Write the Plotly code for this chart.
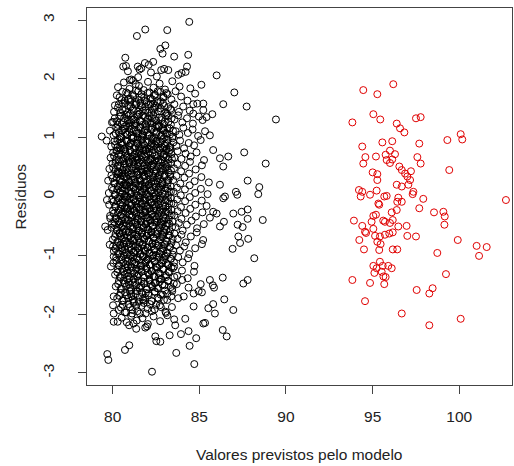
import plotly.graph_objects as go

# ---------------- data ----------------
x_tick_vals = [80, 85, 90, 95, 100]
x_tick_labels = ["80", "85", "90", "95", "100"]
y_tick_vals = [-3, -2, -1, 0, 1, 2, 3]
y_tick_labels = ["-3", "-2", "-1", "0", "1", "2", "3"]

x_title = "Valores previstos pelo modelo"
y_title = "Resíduos"

# black group: upper part of the cloud (fitted value, residual)
black_upper = [
    (80.88,2.13),(81.65,2.18),(82.21,2.11),(82.97,2.17),(81.47,2.03),(82.55,2.04),
    (80.31,1.86),(80.65,1.94),(80.97,1.83),(81.18,1.97),(81.52,1.88),(81.79,1.81),(82.04,1.95),
    (82.36,1.85),(82.71,1.92),(83.02,1.82),(83.44,1.96),(83.86,1.87),(84.48,1.84),(81.33,1.91),
    (80.24,1.72),(80.51,1.64),(80.78,1.77),(80.93,1.66),(81.15,1.74),(81.31,1.61),(81.48,1.79),
    (81.66,1.69),(81.87,1.63),(82.02,1.76),(82.18,1.67),(82.39,1.72),(82.57,1.62),(82.76,1.78),
    (82.94,1.68),(83.17,1.74),(83.39,1.65),(83.63,1.79),(83.95,1.70),(84.32,1.63),(84.76,1.75),(81.02,1.61),
    (80.08,1.44),(80.36,1.57),(80.55,1.48),(80.71,1.59),(80.86,1.42),(81.04,1.53),(81.21,1.46),
    (81.37,1.58),(81.55,1.41),(81.71,1.52),(81.90,1.47),(82.06,1.56),(82.24,1.43),(82.41,1.51),
    (82.60,1.59),(82.79,1.45),(82.98,1.54),(83.14,1.41),(83.33,1.49),(83.56,1.57),(83.82,1.44),
    (84.07,1.53),(84.45,1.46),(84.88,1.58),(81.63,1.55),(82.33,1.58),
    (80.12,1.33),(80.29,1.22),(80.47,1.37),(80.62,1.26),(80.79,1.39),(80.95,1.24),(81.11,1.31),
    (81.26,1.21),(81.42,1.36),(81.58,1.28),(81.74,1.38),(81.89,1.23),(82.03,1.32),(82.19,1.25),
    (82.35,1.39),(82.51,1.29),(82.68,1.21),(82.84,1.34),(83.01,1.27),(83.19,1.37),(83.36,1.22),
    (83.57,1.31),(83.78,1.38),(84.02,1.26),(84.29,1.33),(84.63,1.24),(84.97,1.36),(81.33,1.29),
    (82.27,1.33),(80.88,1.30),
    (79.84,1.12),(80.05,1.04),(80.21,1.18),(80.36,1.09),(80.51,1.01),(80.66,1.15),(80.81,1.06),
    (80.96,1.19),(81.09,1.03),(81.23,1.13),(81.38,1.07),(81.52,1.17),(81.66,1.02),(81.81,1.11),
    (81.95,1.19),(82.09,1.05),(82.23,1.14),(82.38,1.01),(82.52,1.09),(82.67,1.18),(82.82,1.04),
    (82.97,1.12),(83.12,1.07),(83.29,1.16),(83.46,1.02),(83.64,1.11),(83.85,1.05),(84.08,1.17),
    (84.34,1.08),(84.61,1.14),(84.93,1.03),(81.45,1.00),(82.45,1.19),(80.72,1.08),(81.74,1.06),(82.88,1.16),
]

# black group: centre of the cloud
black_center = [
    (79.92,0.85),(80.11,0.94),(80.26,0.83),(80.40,0.97),(80.55,0.88),(80.69,0.81),(80.83,0.93),
    (80.97,0.86),(81.10,0.99),(81.24,0.82),(81.37,0.91),(81.51,0.84),(81.64,0.96),(81.78,0.89),
    (81.91,0.80),(82.05,0.92),(82.18,0.85),(82.32,0.98),(82.46,0.87),(82.60,0.81),(82.74,0.94),
    (82.88,0.83),(83.03,0.90),(83.18,0.97),(83.33,0.84),(83.50,0.92),(83.68,0.86),(83.89,0.95),
    (84.12,0.82),(84.39,0.91),(84.70,0.87),(85.08,0.96),(81.02,0.90),(81.70,0.82),(82.25,0.90),
    (82.95,0.99),(80.48,0.91),(81.44,0.97),(82.53,0.94),(83.11,0.81),
    (79.88,0.66),(80.03,0.75),(80.18,0.62),(80.33,0.71),(80.47,0.79),(80.61,0.64),(80.75,0.73),
    (80.89,0.61),(81.02,0.77),(81.15,0.68),(81.29,0.74),(81.42,0.63),(81.56,0.78),(81.69,0.67),
    (81.83,0.72),(81.96,0.61),(82.10,0.76),(82.23,0.65),(82.37,0.79),(82.51,0.69),(82.65,0.62),
    (82.79,0.74),(82.93,0.67),(83.08,0.78),(83.23,0.63),(83.39,0.72),(83.56,0.66),(83.75,0.77),
    (83.97,0.64),(84.21,0.73),(84.50,0.68),(84.84,0.75),(85.27,0.62),(80.82,0.68),(81.36,0.66),
    (81.90,0.79),(82.44,0.61),(82.98,0.71),(80.25,0.78),(81.62,0.70),(82.16,0.63),(83.31,0.79),
    (79.81,0.47),(79.99,0.56),(80.14,0.43),(80.29,0.52),(80.43,0.59),(80.57,0.45),(80.71,0.54),
    (80.85,0.41),(80.98,0.57),(81.12,0.48),(81.25,0.55),(81.39,0.42),(81.53,0.58),(81.66,0.46),
    (81.80,0.53),(81.94,0.44),(82.07,0.59),(82.21,0.49),(82.35,0.56),(82.49,0.43),(82.63,0.51),
    (82.77,0.58),(82.91,0.45),(83.06,0.54),(83.21,0.41),(83.37,0.57),(83.54,0.48),(83.73,0.55),
    (83.95,0.43),(84.18,0.52),(84.46,0.59),(84.79,0.46),(85.15,0.53),(80.64,0.49),(81.18,0.59),
    (81.73,0.41),(82.28,0.53),(82.84,0.48),(80.36,0.41),(81.47,0.51),(82.01,0.47),(83.13,0.50),
    (79.74,0.27),(79.93,0.36),(80.09,0.23),(80.24,0.32),(80.38,0.39),(80.52,0.25),(80.66,0.34),
    (80.80,0.21),(80.93,0.37),(81.07,0.28),(81.20,0.35),(81.34,0.22),(81.48,0.38),(81.61,0.26),
    (81.75,0.33),(81.89,0.24),(82.02,0.39),(82.16,0.29),(82.30,0.36),(82.44,0.23),(82.58,0.31),
    (82.72,0.38),(82.86,0.25),(83.01,0.34),(83.16,0.21),(83.32,0.37),(83.49,0.28),(83.68,0.35),
    (83.90,0.22),(84.14,0.32),(84.41,0.39),(84.73,0.26),(85.12,0.33),(85.55,0.24),(80.45,0.30),
    (80.99,0.24),(81.54,0.31),(82.09,0.21),(82.64,0.35),(83.22,0.28),(80.71,0.39),(81.27,0.29),
    (81.82,0.37),(82.37,0.26),
    (79.78,0.06),(79.96,0.15),(80.12,0.03),(80.27,0.12),(80.41,0.19),(80.55,0.05),(80.69,0.14),
    (80.83,0.01),(80.96,0.17),(81.10,0.08),(81.23,0.15),(81.37,0.02),(81.51,0.18),(81.64,0.06),
    (81.78,0.13),(81.92,0.04),(82.05,0.19),(82.19,0.09),(82.33,0.16),(82.47,0.03),(82.61,0.11),
    (82.75,0.18),(82.89,0.05),(83.04,0.14),(83.19,0.01),(83.35,0.17),(83.52,0.08),(83.71,0.15),
    (83.93,0.02),(84.17,0.12),(84.44,0.19),(84.76,0.06),(85.09,0.13),(85.48,0.04),(80.48,0.10),
    (81.02,0.04),(81.57,0.11),(82.12,0.01),(82.67,0.15),(83.25,0.08),(80.74,0.19),(81.30,0.09),
    (81.85,0.17),(82.40,0.06),
    (79.80,-0.14),(79.98,-0.05),(80.13,-0.17),(80.28,-0.08),(80.42,-0.01),(80.56,-0.15),(80.70,-0.06),
    (80.84,-0.19),(80.97,-0.03),(81.11,-0.12),(81.24,-0.05),(81.38,-0.18),(81.52,-0.02),(81.65,-0.14),
    (81.79,-0.07),(81.93,-0.16),(82.06,-0.01),(82.20,-0.11),(82.34,-0.04),(82.48,-0.17),(82.62,-0.09),
    (82.76,-0.02),(82.90,-0.15),(83.05,-0.06),(83.20,-0.19),(83.36,-0.03),(83.53,-0.12),(83.72,-0.05),
    (83.94,-0.18),(84.18,-0.08),(84.45,-0.01),(84.77,-0.14),(85.14,-0.07),(85.42,-0.16),(80.49,-0.10),
    (81.03,-0.16),(81.58,-0.09),(82.13,-0.19),(82.68,-0.05),(83.26,-0.12),(80.75,-0.01),(81.31,-0.11),
    (81.86,-0.03),(82.41,-0.14),
    (79.85,-0.33),(80.02,-0.24),(80.17,-0.37),(80.31,-0.28),(80.45,-0.21),(80.59,-0.35),(80.73,-0.26),
    (80.87,-0.39),(81.00,-0.23),(81.14,-0.32),(81.27,-0.25),(81.41,-0.38),(81.55,-0.22),(81.68,-0.34),
    (81.82,-0.27),(81.96,-0.36),(82.09,-0.21),(82.23,-0.31),(82.37,-0.24),(82.51,-0.37),(82.65,-0.29),
    (82.79,-0.22),(82.93,-0.35),(83.08,-0.26),(83.23,-0.39),(83.39,-0.23),(83.56,-0.32),(83.75,-0.25),
    (83.97,-0.38),(84.21,-0.28),(84.48,-0.21),(84.80,-0.34),(85.18,-0.27),(85.61,-0.36),(80.52,-0.30),
    (81.06,-0.36),(81.61,-0.29),(82.16,-0.39),(82.71,-0.25),(83.29,-0.32),(80.78,-0.21),(81.34,-0.31),
    (81.89,-0.23),(82.44,-0.34),
    (79.94,-0.53),(80.10,-0.44),(80.24,-0.57),(80.38,-0.48),(80.52,-0.41),(80.66,-0.55),(80.80,-0.46),
    (80.94,-0.59),(81.07,-0.43),(81.21,-0.52),(81.34,-0.45),(81.48,-0.58),(81.62,-0.42),(81.75,-0.54),
    (81.89,-0.47),(82.03,-0.56),(82.16,-0.41),(82.30,-0.51),(82.44,-0.44),(82.58,-0.57),(82.72,-0.49),
    (82.86,-0.42),(83.00,-0.55),(83.15,-0.46),(83.30,-0.59),(83.46,-0.43),(83.63,-0.52),(83.82,-0.45),
    (84.04,-0.58),(84.28,-0.48),(84.55,-0.41),(84.87,-0.54),(85.26,-0.47),(80.59,-0.50),(81.13,-0.56),
    (81.68,-0.49),(82.23,-0.59),(82.78,-0.45),(80.31,-0.42),(81.41,-0.51),(81.96,-0.43),(83.07,-0.50),
    (80.01,-0.73),(80.17,-0.64),(80.31,-0.77),(80.45,-0.68),(80.59,-0.61),(80.73,-0.75),(80.87,-0.66),
    (81.01,-0.79),(81.14,-0.63),(81.28,-0.72),(81.41,-0.65),(81.55,-0.78),(81.69,-0.62),(81.82,-0.74),
    (81.96,-0.67),(82.10,-0.76),(82.23,-0.61),(82.37,-0.71),(82.51,-0.64),(82.65,-0.77),(82.79,-0.69),
    (82.93,-0.62),(83.08,-0.75),(83.23,-0.66),(83.39,-0.79),(83.56,-0.63),(83.75,-0.72),(83.97,-0.65),
    (84.22,-0.78),(84.51,-0.68),(84.85,-0.61),(85.22,-0.74),(80.66,-0.70),(81.20,-0.76),(81.75,-0.69),
    (82.30,-0.79),(82.86,-0.65),(80.38,-0.62),(81.48,-0.71),(82.03,-0.63),
]

# black group: lower part of the cloud
black_lower = [
    (80.07,-0.93),(80.22,-0.84),(80.36,-0.97),(80.50,-0.88),(80.64,-0.81),(80.78,-0.95),(80.92,-0.86),
    (81.05,-0.99),(81.19,-0.83),(81.32,-0.92),(81.46,-0.85),(81.60,-0.98),(81.73,-0.82),(81.87,-0.94),
    (82.01,-0.87),(82.14,-0.96),(82.28,-0.81),(82.42,-0.91),(82.56,-0.84),(82.70,-0.97),(82.84,-0.89),
    (82.99,-0.82),(83.14,-0.95),(83.30,-0.86),(83.47,-0.99),(83.66,-0.83),(83.88,-0.92),(84.13,-0.85),
    (84.42,-0.98),(84.76,-0.88),(85.15,-0.81),(80.71,-0.90),(81.25,-0.96),(81.80,-0.89),(82.35,-0.99),
    (82.91,-0.93),(80.43,-0.82),(81.53,-0.91),
    (80.04,-1.13),(80.20,-1.04),(80.35,-1.17),(80.49,-1.08),(80.63,-1.01),(80.77,-1.15),(80.91,-1.06),
    (81.05,-1.19),(81.18,-1.03),(81.32,-1.12),(81.46,-1.05),(81.59,-1.18),(81.73,-1.02),(81.87,-1.14),
    (82.00,-1.07),(82.14,-1.16),(82.28,-1.01),(82.42,-1.11),(82.56,-1.04),(82.71,-1.17),(82.86,-1.09),
    (83.01,-1.02),(83.17,-1.15),(83.35,-1.06),(83.55,-1.19),(83.78,-1.03),(84.04,-1.12),(84.35,-1.05),
    (84.72,-1.18),(80.84,-1.10),(81.39,-1.16),(81.94,-1.09),(82.49,-1.19),(83.08,-1.13),
    (80.14,-1.33),(80.30,-1.24),(80.46,-1.37),(80.61,-1.28),(80.76,-1.21),(80.91,-1.35),(81.06,-1.26),
    (81.21,-1.39),(81.36,-1.23),(81.51,-1.32),(81.66,-1.25),(81.81,-1.38),(81.96,-1.22),(82.11,-1.34),
    (82.26,-1.27),(82.41,-1.36),(82.57,-1.21),(82.73,-1.31),(82.90,-1.24),(83.08,-1.37),(83.27,-1.29),
    (83.48,-1.22),(83.72,-1.35),(84.00,-1.26),(84.33,-1.39),(84.69,-1.28),(80.84,-1.30),(81.43,-1.36),
    (82.03,-1.29),(82.65,-1.39),
    (80.18,-1.53),(80.36,-1.44),(80.53,-1.57),(80.69,-1.48),(80.85,-1.41),(81.01,-1.55),(81.17,-1.46),
    (81.33,-1.59),(81.49,-1.43),(81.65,-1.52),(81.81,-1.45),(81.97,-1.58),(82.13,-1.42),(82.29,-1.54),
    (82.46,-1.47),(82.63,-1.56),(82.81,-1.41),(83.00,-1.51),(83.21,-1.44),(83.44,-1.57),(83.70,-1.49),
    (84.01,-1.42),(84.38,-1.55),(80.95,-1.50),(81.57,-1.56),(82.20,-1.49),
    (80.26,-1.73),(80.46,-1.64),(80.64,-1.77),(80.82,-1.68),(80.99,-1.61),(81.16,-1.75),(81.33,-1.66),
    (81.51,-1.79),(81.69,-1.63),(81.87,-1.72),(82.06,-1.65),(82.25,-1.78),(82.45,-1.62),(82.66,-1.74),
    (82.89,-1.67),(83.15,-1.76),(83.44,-1.61),(83.78,-1.73),(81.08,-1.70),(81.78,-1.77),
    (80.35,-1.93),(80.58,-1.84),(80.79,-1.97),(81.00,-1.88),(81.21,-1.81),(81.43,-1.95),(81.66,-1.86),
    (81.90,-1.99),(82.15,-1.83),(82.42,-1.92),(82.72,-1.85),(83.05,-1.96),(83.42,-1.88),(81.12,-1.99),
    (80.52,-2.06),(80.81,-2.14),(81.07,-2.03),(81.39,-2.11),(81.72,-2.07),(82.03,-2.17),(82.36,-2.04),
    (82.74,-2.12),(83.15,-2.02),(80.95,-2.19),
]

# black group: extra points filling the solid core (x list, y list per band)
black_core_fill = [
    ([80.40,80.56,80.71,80.87,81.03,81.19,81.34,81.50,81.66,81.81,81.97,82.13,82.29,82.45,82.60,82.76,82.92,83.10],
     [1.69,1.78,1.63,1.75,1.66,1.71,1.80,1.64,1.74,1.68,1.61,1.77,1.65,1.73,1.79,1.62,1.70,1.76]),
    ([80.30,80.44,80.59,80.73,80.88,81.02,81.17,81.31,81.46,81.60,81.75,81.89,82.04,82.18,82.33,82.47,82.62,82.76,82.91,83.05,83.20,83.38],
     [1.51,1.43,1.58,1.47,1.55,1.41,1.49,1.56,1.44,1.59,1.46,1.53,1.42,1.57,1.48,1.54,1.45,1.50,1.58,1.43,1.52,1.47]),
    ([80.25,80.39,80.52,80.66,80.79,80.93,81.06,81.20,81.33,81.47,81.60,81.74,81.87,82.01,82.14,82.28,82.41,82.55,82.68,82.82,82.95,83.09,83.22,83.40],
     [1.28,1.36,1.23,1.33,1.21,1.38,1.26,1.31,1.24,1.39,1.29,1.22,1.35,1.27,1.37,1.25,1.32,1.21,1.34,1.30,1.23,1.38,1.27,1.33]),
    ([80.18,80.31,80.44,80.57,80.70,80.83,80.96,81.09,81.22,81.35,81.48,81.61,81.74,81.87,82.00,82.13,82.26,82.39,82.52,82.65,82.78,82.91,83.04,83.17,83.30,83.48],
     [1.07,1.15,1.02,1.12,1.19,1.05,1.10,1.16,1.01,1.13,1.08,1.18,1.04,1.14,1.09,1.03,1.17,1.11,1.06,1.19,1.02,1.13,1.08,1.16,1.05,1.12]),
    ([80.14,80.28,80.41,80.54,80.67,80.80,80.93,81.06,81.19,81.32,81.45,81.58,81.71,81.84,81.97,82.10,82.23,82.36,82.49,82.62,82.75,82.88,83.01,83.14,83.28,83.45],
     [0.88,0.96,0.83,0.92,0.80,0.95,0.86,0.91,0.99,0.84,0.90,0.82,0.97,0.87,0.93,0.81,0.98,0.85,0.94,0.89,0.82,0.96,0.86,0.91,0.84,0.99]),
    ([80.08,80.22,80.35,80.48,80.61,80.74,80.87,81.00,81.13,81.26,81.39,81.52,81.65,81.78,81.91,82.04,82.17,82.30,82.43,82.56,82.69,82.82,82.95,83.09,83.24,83.42],
     [0.69,0.77,0.63,0.72,0.60,0.76,0.66,0.79,0.64,0.71,0.68,0.75,0.62,0.78,0.67,0.73,0.61,0.74,0.70,0.65,0.79,0.63,0.72,0.68,0.76,0.64]),
    ([80.03,80.17,80.30,80.43,80.56,80.69,80.82,80.95,81.08,81.21,81.34,81.47,81.60,81.73,81.86,81.99,82.12,82.25,82.38,82.51,82.64,82.77,82.90,83.04,83.19,83.37],
     [0.49,0.57,0.43,0.52,0.40,0.56,0.46,0.59,0.44,0.51,0.48,0.55,0.42,0.58,0.47,0.53,0.41,0.54,0.50,0.45,0.59,0.43,0.52,0.48,0.56,0.44]),
    ([80.00,80.13,80.27,80.40,80.53,80.66,80.79,80.92,81.05,81.18,81.31,81.44,81.57,81.70,81.83,81.96,82.09,82.22,82.35,82.48,82.61,82.74,82.87,83.00,83.15,83.33],
     [0.31,0.22,0.38,0.27,0.35,0.21,0.33,0.25,0.39,0.29,0.24,0.36,0.28,0.20,0.34,0.26,0.37,0.23,0.32,0.39,0.25,0.30,0.22,0.36,0.28,0.34]),
    ([80.02,80.16,80.29,80.42,80.55,80.68,80.81,80.94,81.07,81.20,81.33,81.46,81.59,81.72,81.85,81.98,82.11,82.24,82.37,82.50,82.63,82.76,82.89,83.03,83.18,83.36],
     [0.11,0.03,0.17,0.07,0.14,0.01,0.19,0.09,0.05,0.16,0.12,0.02,0.18,0.08,0.13,0.04,0.15,0.10,0.00,0.17,0.06,0.12,0.19,0.03,0.14,0.08]),
    ([80.04,80.18,80.31,80.44,80.57,80.70,80.83,80.96,81.09,81.22,81.35,81.48,81.61,81.74,81.87,82.00,82.13,82.26,82.39,82.52,82.65,82.78,82.91,83.05,83.20,83.38],
     [-0.09,-0.17,-0.03,-0.13,-0.06,-0.19,-0.01,-0.11,-0.15,-0.04,-0.08,-0.18,-0.02,-0.12,-0.07,-0.16,-0.05,-0.10,-0.20,-0.03,-0.14,-0.08,-0.01,-0.17,-0.06,-0.12]),
    ([80.06,80.20,80.33,80.46,80.59,80.72,80.85,80.98,81.11,81.24,81.37,81.50,81.63,81.76,81.89,82.02,82.15,82.28,82.41,82.54,82.67,82.80,82.93,83.07,83.22,83.40],
     [-0.29,-0.37,-0.23,-0.33,-0.26,-0.39,-0.21,-0.31,-0.35,-0.24,-0.28,-0.38,-0.22,-0.32,-0.27,-0.36,-0.25,-0.30,-0.40,-0.23,-0.34,-0.28,-0.21,-0.37,-0.26,-0.32]),
    ([80.10,80.24,80.37,80.50,80.63,80.76,80.89,81.02,81.15,81.28,81.41,81.54,81.67,81.80,81.93,82.06,82.19,82.32,82.45,82.58,82.71,82.84,82.97,83.11,83.26,83.43],
     [-0.49,-0.57,-0.43,-0.53,-0.46,-0.59,-0.41,-0.51,-0.55,-0.44,-0.48,-0.58,-0.42,-0.52,-0.47,-0.56,-0.45,-0.50,-0.60,-0.43,-0.54,-0.48,-0.41,-0.57,-0.46,-0.52]),
    ([80.13,80.27,80.40,80.53,80.66,80.79,80.92,81.05,81.18,81.31,81.44,81.57,81.70,81.83,81.96,82.09,82.22,82.35,82.48,82.61,82.74,82.87,83.00,83.14,83.29,83.46],
     [-0.69,-0.77,-0.63,-0.73,-0.66,-0.79,-0.61,-0.71,-0.75,-0.64,-0.68,-0.78,-0.62,-0.72,-0.67,-0.76,-0.65,-0.70,-0.80,-0.63,-0.74,-0.68,-0.61,-0.77,-0.66,-0.72]),
    ([80.16,80.30,80.43,80.56,80.69,80.82,80.95,81.08,81.21,81.34,81.47,81.60,81.73,81.86,81.99,82.12,82.25,82.38,82.51,82.64,82.77,82.90,83.03,83.17,83.32,83.49],
     [-0.89,-0.97,-0.83,-0.93,-0.86,-0.99,-0.81,-0.91,-0.95,-0.84,-0.88,-0.98,-0.82,-0.92,-0.87,-0.96,-0.85,-0.90,-1.00,-0.83,-0.94,-0.88,-0.81,-0.97,-0.86,-0.92]),
    ([80.21,80.35,80.48,80.61,80.74,80.87,81.00,81.13,81.26,81.39,81.52,81.65,81.78,81.91,82.04,82.17,82.30,82.43,82.56,82.69,82.82,82.95,83.08,83.22,83.37,83.54],
     [-1.09,-1.17,-1.03,-1.13,-1.06,-1.19,-1.01,-1.11,-1.15,-1.04,-1.08,-1.18,-1.02,-1.12,-1.07,-1.16,-1.05,-1.10,-1.20,-1.03,-1.14,-1.08,-1.01,-1.17,-1.06,-1.12]),
    ([80.27,80.41,80.55,80.69,80.83,80.97,81.11,81.25,81.39,81.53,81.67,81.81,81.95,82.09,82.23,82.37,82.51,82.65,82.79,82.93,83.07,83.22,83.38,83.56],
     [-1.29,-1.37,-1.23,-1.33,-1.26,-1.39,-1.21,-1.31,-1.35,-1.24,-1.28,-1.38,-1.22,-1.32,-1.27,-1.36,-1.25,-1.30,-1.40,-1.23,-1.34,-1.28,-1.21,-1.37]),
    ([80.32,80.47,80.62,80.77,80.92,81.07,81.22,81.37,81.52,81.67,81.82,81.97,82.12,82.27,82.42,82.57,82.72,82.87,83.02,83.18,83.35,83.53],
     [-1.49,-1.57,-1.43,-1.53,-1.46,-1.59,-1.41,-1.51,-1.55,-1.44,-1.48,-1.58,-1.42,-1.52,-1.47,-1.56,-1.45,-1.50,-1.60,-1.43,-1.54,-1.48]),
    ([80.38,80.55,80.72,80.89,81.06,81.23,81.40,81.57,81.74,81.91,82.08,82.25,82.42,82.59,82.77,82.96,83.16,83.38],
     [-1.69,-1.77,-1.63,-1.73,-1.66,-1.79,-1.61,-1.71,-1.75,-1.64,-1.68,-1.78,-1.62,-1.72,-1.67,-1.76,-1.65,-1.70]),
    ([80.48,80.70,80.92,81.14,81.36,81.58,81.80,82.02,82.26,82.51,82.78,83.08],
     [-1.89,-1.97,-1.83,-1.93,-1.86,-1.99,-1.81,-1.91,-1.95,-1.84,-1.88,-1.98]),
]

# black group: scattered points around the cloud
black_outliers = [
    (84.42,2.97),(81.88,2.84),(81.40,2.73),(83.15,2.83),(82.75,2.51),(83.04,2.57),(82.88,2.43),
    (83.55,2.38),(84.36,2.41),(80.73,2.36),(80.61,2.21),(80.77,2.22),(81.45,2.21),(81.55,2.16),
    (81.86,2.27),(82.08,2.24),(82.34,2.29),(82.80,2.15),(83.21,2.15),(83.79,2.07),(83.98,2.10),
    (84.29,2.21),(84.21,2.12),(80.98,1.98),(81.08,1.99),(85.12,1.90),(80.13,1.55),(79.96,1.26),
    (80.03,1.27),(86.00,2.06),(87.02,1.77),(86.38,1.57),(87.73,1.53),(89.42,1.31),(85.23,1.58),
    (85.23,1.47),(85.75,1.40),(85.42,1.35),(85.19,1.30),(84.65,1.57),(84.65,1.41),(85.33,1.11),
    (85.61,1.04),
    (87.59,0.75),(88.83,0.56),(86.19,0.65),(86.67,0.68),(86.38,0.51),(85.80,0.79),(87.79,0.27),
    (88.46,0.16),(88.40,0.04),(87.11,0.08),(87.19,0.03),(86.19,0.20),(86.38,-0.03),(86.48,0.00),
    (85.80,-0.26),(86.00,-0.29),(86.96,-0.29),(87.44,-0.26),(87.79,-0.22),(88.66,-0.40),(87.79,-0.38),
    (86.42,-0.43),(86.19,-0.51),(87.21,-0.48),(87.50,-0.52),(87.25,-0.68),(87.82,-0.72),(87.35,-0.79),
    (86.92,-0.89),(88.17,-1.05),
    (87.54,-1.48),(87.79,-1.42),(86.35,-1.38),(85.85,-1.55),(85.78,-1.51),(85.61,-1.42),(86.44,-1.75),
    (86.96,-1.93),(85.52,-1.90),(85.90,-1.99),(85.80,-1.83),(85.23,-2.16),(85.33,-2.15),(86.35,-2.27),
    (86.58,-2.38),(85.08,-1.49),
    (79.69,-2.68),(79.75,-2.78),(80.71,-2.61),(80.96,-2.53),(82.27,-2.98),(83.67,-2.66),(84.71,-2.85),
    (82.52,-2.46),(82.75,-2.47),(82.46,-2.38),(81.88,-2.23),(81.98,-2.21),(81.36,-2.25),(81.21,-2.16),
    (83.29,-2.36),(83.94,-2.34),(84.38,-2.29),(84.82,-2.41),(84.44,-2.54),(83.61,-2.19),(83.55,-2.09),
    (84.19,-2.08),(80.06,-1.70),(80.02,-1.85),(80.06,-1.99),(80.06,-2.13),(80.29,-2.13),(79.90,-1.19),
    (84.67,-1.65),(84.96,-1.61),(85.15,-1.63),(84.10,-1.70),(84.67,-1.87),
    (79.37,1.02),(79.65,0.95),(79.67,-0.06),(79.86,-0.37),(79.96,-0.46),(79.57,-0.51),(79.71,-0.57),
    (79.83,-0.82),(80.02,-0.85),(80.06,-1.02),
]

# red group
red_points = [
    (94.46,1.81),(95.27,1.74),(96.19,1.91),(93.83,1.26),(95.04,1.40),(95.44,1.31),(96.39,1.24),
    (96.58,1.16),(96.83,1.09),(97.50,1.33),(97.77,1.35),(99.31,0.96),(100.08,1.06),(100.17,0.97),
    (94.40,0.85),(95.56,0.92),(96.13,0.94),(97.69,0.90),(94.58,0.67),(94.46,0.56),(95.19,0.68),
    (95.75,0.71),(96.00,0.78),(96.29,0.72),(95.81,0.62),(96.00,0.57),(96.13,0.63),(97.58,0.67),
    (97.77,0.56),(96.54,0.51),(96.68,0.45),(96.87,0.39),(97.21,0.43),(97.00,0.34),(97.16,0.28),
    (95.00,0.41),(95.27,0.38),(95.27,0.28),(99.42,0.45),(96.39,0.20),(96.68,0.17),(97.06,0.20),
    (94.21,0.11),(94.40,0.08),(94.31,0.00),(94.85,0.03),(95.23,0.10),(95.67,0.00),(95.81,0.01),
    (96.48,-0.02),(97.35,0.08),(97.31,0.04),(97.92,-0.04),(102.69,-0.06),(95.38,-0.14),(95.33,-0.12),
    (96.42,-0.09),(96.68,-0.09),(96.39,-0.23),(96.10,-0.27),(97.69,-0.20),(98.54,-0.27),(99.08,-0.26),
    (99.16,-0.34),(99.14,-0.48),(93.92,-0.41),(95.04,-0.33),(95.19,-0.31),(94.94,-0.43),(95.61,-0.41),
    (95.71,-0.43),(96.00,-0.45),(96.16,-0.40),(94.40,-0.50),(94.56,-0.60),(94.62,-0.62),(95.04,-0.55),
    (95.14,-0.67),(95.42,-0.68),(95.71,-0.65),(95.96,-0.63),(96.16,-0.61),(96.48,-0.51),(96.96,-0.50),
    (97.00,-0.67),(97.50,-0.68),(94.23,-0.74),(95.27,-0.77),(95.46,-0.81),(94.50,-0.90),(95.38,-0.91),
    (96.16,-0.90),(96.42,-0.90),(99.91,-0.74),(101.00,-0.84),(101.58,-0.86),(101.14,-1.01),(98.73,-0.96),
    (95.04,-1.18),(95.23,-1.22),(95.42,-1.11),(95.58,-1.18),(95.90,-1.18),(96.10,-1.22),(95.10,-1.30),
    (95.52,-1.28),(95.62,-1.36),(95.75,-1.37),(95.67,-1.49),(93.83,-1.42),(94.85,-1.47),(99.23,-1.32),
    (97.54,-1.59),(98.46,-1.56),(98.27,-1.65),(94.56,-1.78),(96.68,-1.99),(100.08,-2.08),(98.27,-2.19),
]

# ---------------- figure ----------------
black_all = black_upper + black_center + black_lower + black_outliers
black_x = [p[0] for p in black_all]
black_y = [p[1] for p in black_all]
for band_x, band_y in black_core_fill:
    black_x += band_x
    black_y += band_y
red_x = [p[0] for p in red_points]
red_y = [p[1] for p in red_points]

FONT = "Liberation Sans, Arial, Helvetica, sans-serif"
FS = 15.5
TXT = "#222222"
AX = "#444444"

fig = go.Figure()
fig.add_trace(go.Scatter(
    x=black_x, y=black_y, mode="markers",
    marker=dict(symbol="circle-open", size=7, color="black", line=dict(width=1, color="black")),
    hoverinfo="skip", showlegend=False))
fig.add_trace(go.Scatter(
    x=red_x, y=red_y, mode="markers",
    marker=dict(symbol="circle-open", size=7, color="#e00000", line=dict(width=1, color="#e00000")),
    hoverinfo="skip", showlegend=False))

fig.update_layout(
    width=514, height=466,
    margin=dict(l=87, r=2, t=8, b=81),
    plot_bgcolor="white", paper_bgcolor="white",
    font=dict(family=FONT, size=FS, color=TXT),
    showlegend=False,
)
fig.update_xaxes(
    range=[78.52, 103.04], tickmode="array", tickvals=x_tick_vals, ticktext=x_tick_labels,
    ticks="outside", ticklen=8, tickwidth=1, tickcolor=AX,
    showline=True, mirror=True, linecolor=AX, linewidth=1,
    showgrid=False, zeroline=False, ticklabelstandoff=9, automargin=False,
)
fig.update_yaxes(
    range=[-3.206, 3.206], tickmode="array", tickvals=y_tick_vals, ticktext=y_tick_labels,
    tickangle=-90,
    ticks="outside", ticklen=8, tickwidth=1, tickcolor=AX,
    showline=True, mirror=True, linecolor=AX, linewidth=1,
    showgrid=False, zeroline=False, ticklabelstandoff=18, automargin=False,
)
fig.add_annotation(text=x_title, xref="paper", yref="paper", x=0.5, y=0,
                   xanchor="center", yanchor="middle", yshift=-69, showarrow=False,
                   font=dict(family=FONT, size=FS, color=TXT))
fig.add_annotation(text=y_title, xref="paper", yref="paper", x=0, y=0.5,
                   xanchor="center", yanchor="middle", xshift=-67, textangle=-90, showarrow=False,
                   font=dict(family=FONT, size=FS, color=TXT))

# remove the default page margin so the figure sits at the window's top-left corner
fig.write_html("out.html",
               config={"displayModeBar": False},
               post_script="document.body.style.margin='0';document.body.style.overflow='hidden';")
